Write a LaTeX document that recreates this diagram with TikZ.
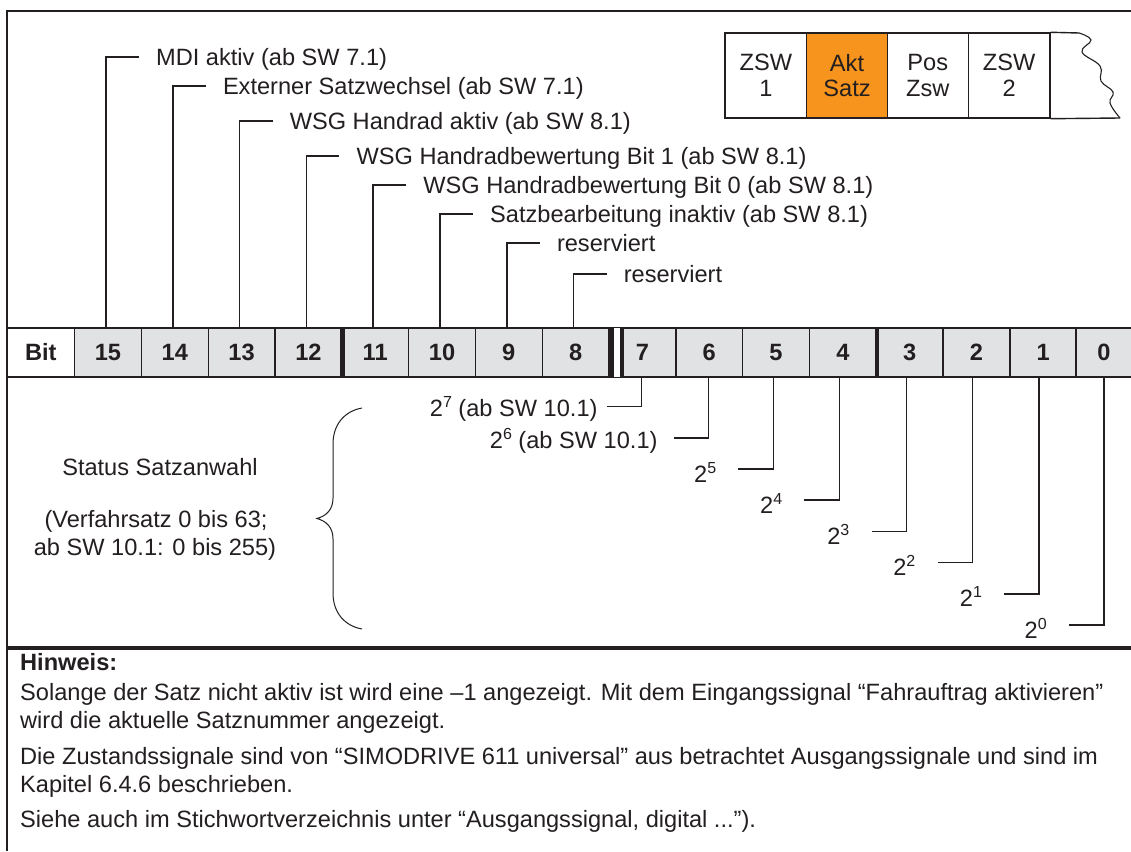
\documentclass[tikz,border=0pt]{standalone}
\usepackage{fontspec}
\setmainfont{Liberation Sans}
\usetikzlibrary{calc}
\definecolor{ln}{RGB}{35,31,32}
\definecolor{cellg}{RGB}{225,226,228}
\definecolor{org}{RGB}{247,148,29}
\newcommand\supx[1]{\raisebox{9pt}{\fontsize{16}{16}\selectfont #1}}
\begin{document}
\begin{tikzpicture}[x=1pt,y=-1pt,
 txt/.style={font=\fontsize{23.6}{28}\selectfont, text=ln, inner sep=0pt},
 conn/.style={draw=ln, line width=1.5pt},
 thickbar/.style={draw=ln, line width=4.5pt},
 bitcell/.style={draw=ln, line width=1.4pt, fill=cellg, minimum width=66.8pt, minimum height=49pt, inner sep=0pt, font=\fontsize{23.6}{28}\selectfont\bfseries, text=ln},
 zcell/.style={draw=ln, line width=1.4pt, minimum height=85pt, inner sep=0pt, align=center, font=\fontsize{23.6}{25.7}\selectfont, text=ln},
 lab/.style={txt, anchor=base west},
 labr/.style={txt, anchor=base east}]
\useasboundingbox (0,0) rectangle (1131,851);
\fill[white] (0,0) rectangle (1131,851);

% frame
\draw[conn] (1131,11) -- (7,11) -- (7,851);

% bit row
\node[bitcell, fill=white, minimum width=67.6pt] (bit) at (40.8,352.5) {Bit};
\foreach \k in {15,14,...,1} {
  \pgfmathsetmacro\cx{108+(15-\k)*66.8}
  \node[bitcell] (b\k) at (\cx,352.5) {\k};
}
\node[bitcell, minimum width=56pt] (b0) at (1104,352.5) {0};
\draw[thickbar] (b12.north east) -- (b12.south east);
\draw[thickbar] (b4.north east) -- (b4.south east);
\fill[white] ([xshift=4pt,yshift=-0.8pt]b8.north east) rectangle ([xshift=10pt,yshift=0.8pt]b8.south east);
\draw[thickbar] ([xshift=1.7pt]b8.north east) -- ([xshift=1.7pt]b8.south east);
\draw[thickbar] ([xshift=12.3pt]b8.north east) -- ([xshift=12.3pt]b8.south east);

% upper labels
\foreach \k/\lev/\t in {
 15/57/{MDI aktiv (ab SW 7.1)},
 14/86/{Externer Satzwechsel (ab SW 7.1)},
 13/121/{WSG Handrad aktiv (ab SW 8.1)},
 12/156/{WSG Handradbewertung Bit 1 (ab SW 8.1)},
 11/185/{WSG Handradbewertung Bit 0 (ab SW 8.1)},
 10/214/{Satzbearbeitung inaktiv (ab SW 8.1)},
 9/243/{reserviert},
 8/274/{reserviert}} {
  \pgfmathsetmacro\vx{106+(15-\k)*66.8}
  \coordinate (t\k) at (\vx,\lev);
  \coordinate (e\k) at (\vx+33,\lev);
  \node[lab] (l\k) at (\vx+50,\lev+8.5) {\t};
  \draw[conn] (b\k.north -| t\k) -- (t\k) -- (e\k);
}

% lower labels
\foreach \k/\vx/\lev/\gap/\off/\t in {
 7/641.7/406.6/9/10/{2\supx{7} (ab SW 10.1)},
 6/708.7/437.8/16/10.5/{2\supx{6} (ab SW 10.1)},
 5/773.4/469/22/13/{2\supx{5}},
 4/839.4/500.2/22/13/{2\supx{4}},
 3/906.5/531.4/22/13/{2\supx{3}},
 2/972.5/562.6/22/13/{2\supx{2}},
 1/1039.2/593.8/22/13/{2\supx{1}},
 0/1103.9/625/22/13/{2\supx{0}}} {
  \coordinate (c\k) at (\vx,\lev);
  \coordinate (g\k) at (\vx-35,\lev);
  \node[labr] (m\k) at (\vx-35-\gap,\lev+\off) {\t};
  \draw[conn] (b\k.south -| c\k) -- (c\k) -- (g\k);
}

% brace
\draw[draw=ln, line width=1pt] (362,408) .. controls (345,411) and (333,424) .. (333,444) -- (333,498) .. controls (333,510) and (326,516) .. (317,518.5) .. controls (326,521) and (333,527) .. (333,539) -- (333,593) .. controls (333,613) and (345,626) .. (362,629);

\node[txt, anchor=base] (s1) at (160,475) {Status Satzanwahl};
\node[txt, anchor=base] (s2) at (156,527) {(Verfahrsatz 0 bis 63;};
\node[txt, anchor=base] (s3) at (155,555) {ab SW 10.1: 0 bis 255)};

% separator
\draw[draw=ln, line width=4pt] (7,648) -- (1131,648);

% notes
\node[lab, font=\fontsize{23.6}{28}\selectfont\bfseries] (h0) at (20,670) {Hinweis:};
\node[lab] (h1) at (20,700) {Solange der Satz nicht aktiv ist wird eine –1 angezeigt. Mit dem Eingangssignal “Fahrauftrag aktivieren”};
\node[lab] (h2) at (20,728) {wird die aktuelle Satznummer angezeigt.};
\node[lab] (h3) at (20,764) {Die Zustandssignale sind von “SIMODRIVE 611 universal” aus betrachtet Ausgangssignale und sind im};
\node[lab] (h4) at (20,792) {Kapitel 6.4.6 beschrieben.};
\node[lab] (h5) at (20,827) {Siehe auch im Stichwortverzeichnis unter “Ausgangssignal, digital ...”).};

% telegram box
\node[zcell, fill=white, minimum width=81.7pt] (z1) at (765.85,75.5) {ZSW\\1};
\node[zcell, fill=org, minimum width=80.6pt] (z2) at (847,75.5) {Akt\\Satz};
\node[zcell, fill=white, minimum width=81pt] (z3) at (927.8,75.5) {Pos\\Zsw};
\node[zcell, fill=white, minimum width=81.7pt] (z4) at (1009.15,75.5) {ZSW\\2};
\coordinate (w0) at (1079,33);
\coordinate (w1) at (1120,118);
\draw[draw=ln, line width=1.4pt] (z4.north east) -- (w0);
\draw[draw=ln, line width=1.4pt] (z4.south east) -- (w1);
\draw[draw=ln, line width=1.1pt] plot[smooth, tension=0.7] coordinates {(w0) (1091,40) (1082,52) (1100,66) (1101,81) (1113,92) (1110,103) (w1)};
\end{tikzpicture}
\end{document}
